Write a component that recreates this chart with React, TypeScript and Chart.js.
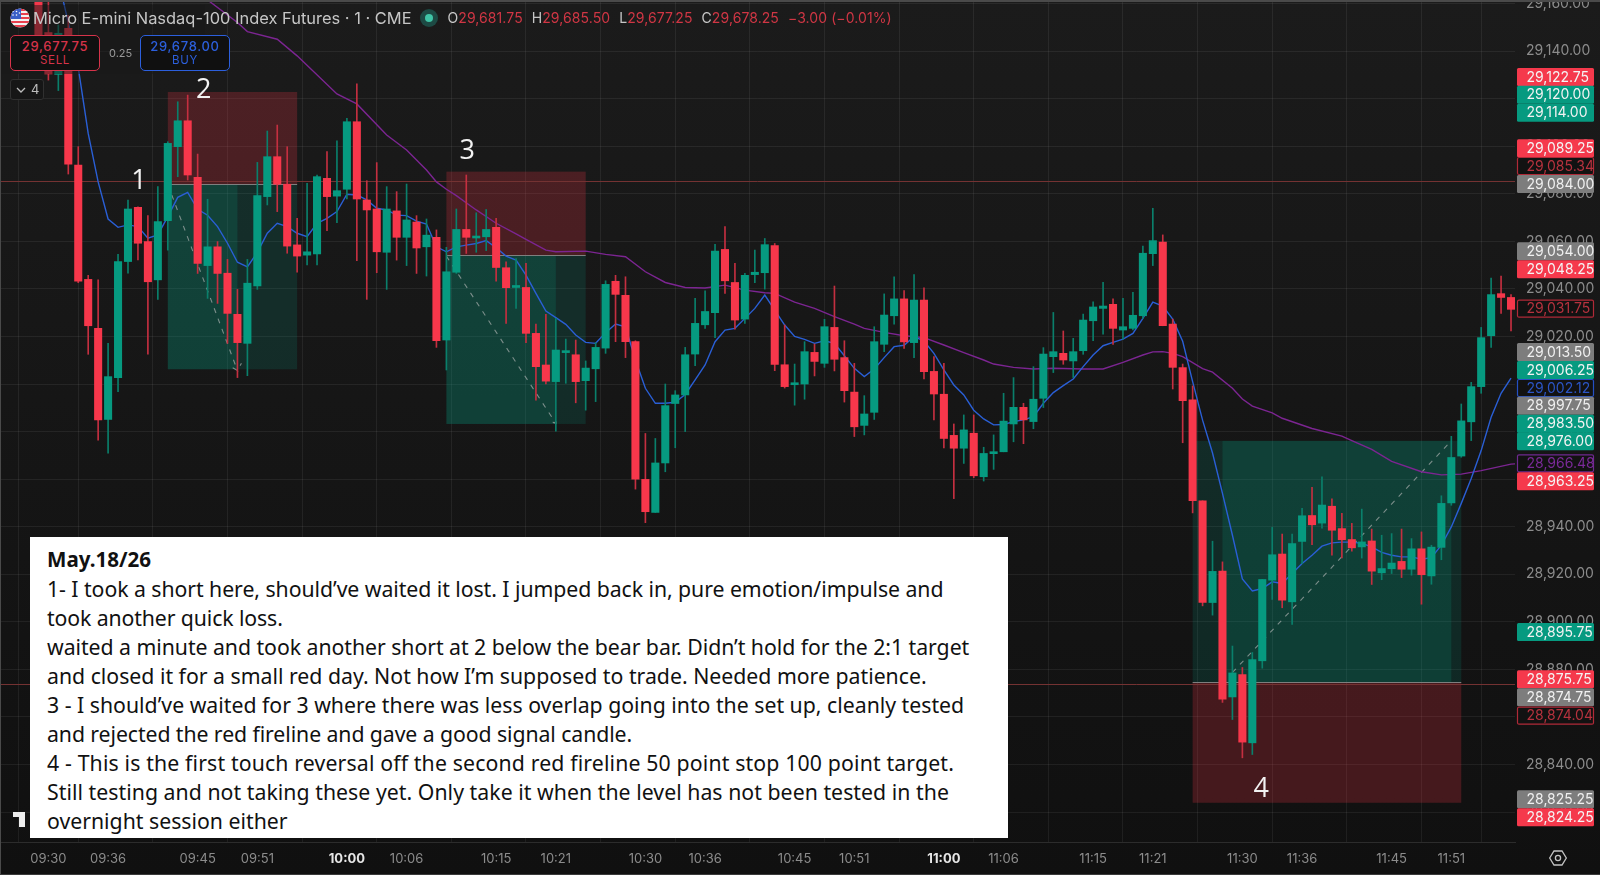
import React, { useEffect, useRef } from "react";
import { Chart, registerables } from "chart.js";

Chart.register(...registerables);

// Minutes after 09:30 of the first candle is -1; one candle per minute.
const firstMinute = -1;
const opens = [
  29170,
  29147.8,29130.2,29149.6,29092.1,29044,29023.4,28985.1,29002.7,29051.5,29074.3,
  29059.9,29043.8,29068.7,29099.8,29110.7,29086.9,29049.8,29057.7,29046.6,29029.3,
  29017.1,29041.3,29078.8,29095.6,29084,29058.5,29054.2,29054.7,29086.5,29079,
  29081.9,29110.3,29077.4,29073.6,29055.4,29072.8,29061.7,29068.1,29057.7,29061.7,
  29018.5,29047,29065,29061.4,29061.9,29065.9,29048.9,29040.6,29040.6,29021.3,
  29008,29001,29013.2,29012.3,29001.4,29006.4,29015.1,29043.2,29037.3,29017.8,
  28959.9,28946,28966.8,28991.8,28995.4,29012.6,29024.9,29030,29056.6,29042.7,
  29027.3,29046,29046.8,29058.2,29008.1,28999.7,29000,29013.3,29008.7,29023.8,
  29011.1,28996.6,28982.6,28988.1,29016.7,29028.7,29035.8,29017.4,29035.3,29005.3,
  28995.7,28978.4,28973,28979.3,28961,28970.7,28971.5,28983.2,28990.2,28984.2,
  28994,29011.5,29012.9,29009.7,29014,29026.6,29031.8,29033.5,29022.7,29023.4,
  29028.7,29054.8,29059.7,29025.2,29006.9,28993.3,28950.9,28908.1,28921.3,28868.4,
  28877.8,28849.1,28883.6,28917.5,28928.5,28908.4,28933.8,28944.7,28941.5,28948.6,
  28939.2,28934.6,28931.5,28934,28920.6,28922.3,28925.4,28922.1,28930.7,28919.3,
  28931.3,28950,28969.7,28984.1,28998.9,29020.3,29038,29036.4,
];
const highs = [
  29175,
  29165,29151,29155,29099.8,29045.7,29043.8,29017.1,29054.5,29077.4,29074.5,
  29070.8,29083,29101.9,29118.7,29121.5,29096.7,29077.7,29059.9,29052.4,29039.8,
  29052.4,29093.2,29106.4,29108.9,29099.8,29069.7,29084.4,29087.9,29097.7,29102.3,
  29111.7,29126.2,29085.5,29093.1,29083,29080.9,29084.1,29070.8,29069.4,29064.8,
  29057.5,29073.6,29087.9,29072,29073.4,29069.7,29051.4,29052.8,29050.7,29025.2,
  29029.3,29027.6,29018.9,29018.5,29009.7,29017.4,29043.4,29045.7,29045.1,29018.2,
  28979.2,28977.1,29000,28997.2,29015.4,29036,29039.2,29058.7,29066.2,29050.7,
  29046.5,29056.3,29061.2,29059.1,29024.8,29008.4,29017.8,29016.8,29027.2,29041.2,
  29018.2,29008.7,28995.1,29024.1,29037.9,29045.1,29039.3,29046,29040.5,29011.5,
  29008.7,28983.2,28987,28987,28973.4,28978.6,28996.1,29002.7,28991.9,29007.3,
  29015.3,29030.1,29022.3,29019.2,29029.4,29034.6,29042.8,29035.8,29036,29038.6,
  29058,29073.9,29062.7,29027.3,29008.4,28999.2,28950.9,28933.9,28925.2,28889.8,
  28880.8,28887.1,28917.8,28939.7,28936.9,28936.9,28947.7,28956.5,28961,28951.7,
  28945.6,28941.4,28947.4,28939,28936.4,28937.1,28939,28935,28937.8,28932.2,
  28953,28978,28991.6,29000.7,29023.8,29044.6,29045.4,29037.6,
];
const lows = [
  29146.8,
  29127.8,29123.4,29088.3,29042.6,29012.5,28976.4,28970.9,28996.8,29046.6,29052.2,
  29012.6,29035.6,29056.3,29087.2,29085.8,29046.5,29036,29033.9,29017.1,29002.7,
  29003.5,29039.8,29075.3,29072.5,29055,29047,29050.1,29050.1,29064.5,29067.8,
  29077.8,29051.9,29035.6,29046.8,29039.8,29052.1,29049.8,29046.5,29045.4,29015.4,
  29005.9,29046.5,29054.9,29055.4,29056.1,29043.3,29025.5,29031.8,29017.4,28993.2,
  29000,28980.2,29000.3,28992.1,28989,28992.6,29012.9,29017.8,29011.1,28955.8,
  28941.7,28946,28963.1,28973.2,28980,29007.7,29023.4,29019.5,29038.1,29023.1,
  29025.5,29042.6,29039.9,29005.6,28998.3,28991.1,28993.6,29003.4,29007,29005.5,
  28992.4,28977.9,28978.6,28985.1,29013.6,29025.2,29015,29011.1,29002.1,28984.9,
  28973.1,28951.8,28966.6,28960.6,28959.2,28964.1,28971.5,28975.7,28974.9,28981.2,
  28990.1,29004.8,29008.3,29002.7,29012.5,29018.2,29021,29016.7,29018.9,29022.7,
  29027.6,29049.8,29024.5,28997.9,28975.3,28945.8,28906.7,28902.8,28866.1,28858.9,
  28842.8,28844.2,28880.5,28909.4,28905.9,28898.9,28924.5,28932.4,28939.4,28928,
  28926.9,28929.7,28926.8,28915.7,28917.7,28920.3,28918.6,28919.6,28907.4,28915.8,
  28926.1,28949,28969.2,28976.2,28996.1,29015.4,29029.7,29022.3,
];
const closes = [
  29146.8,
  29130.4,29147.5,29092.5,29043.3,29024.5,28984.9,29003.1,29051.5,29073.6,29059.2,
  29043,29068.3,29101.2,29110.7,29087.9,29050.7,29057.7,29046.5,29029.7,29017.4,
  29042.4,29079.2,29095.6,29084,29058,29053.8,29055.6,29087.2,29078.8,29081.3,
  29110.3,29077.8,29073.2,29055.6,29073.6,29061.7,29069,29057.2,29062.6,29018.2,
  29047.2,29065,29061.7,29062.2,29065,29049,29040.5,29041.2,29021.3,29007.3,
  29001.2,29014.3,29013.6,29001,29006.7,29015.4,29041.9,29037.7,29017.8,28960,
  28946.3,28966.8,28990.9,28995.4,29012.3,29025.5,29030.5,29055.9,29043.4,29026.9,
  29045.7,29047,29058.6,29008.2,28998.9,29000.3,29013.6,29009.5,29024.1,29010.4,
  28997.2,28982,28987.4,29017.8,29029,29035.8,29017.7,29035.3,29005.2,28995.8,
  28977.1,28973,28980.7,28961.4,28970.8,28971.5,28984.4,28990.2,28984.9,28993.6,
  29012.6,29013.6,29010.1,29013.6,29026.9,29032.4,29032.8,29023.4,29024.1,29028.9,
  29055,29060.3,29024.5,29007,28993,28950.9,28908.1,28921.2,28867.5,28878.5,
  28849.4,28884.1,28917.8,28928.2,28909.1,28932.9,28944.6,28940.8,28949.1,28938.5,
  28934.5,28931.1,28933.6,28921.3,28922.4,28924.7,28922.1,28930.7,28919.8,28931.4,
  28949.8,28969.1,28984.5,28998.9,29019.5,29037.6,29036.4,29031.4,
];

// Blue moving average, one reading per minute from minute 1
const blueFirstMinute = 1;
const blueAverage = [
  29170,29152,29133,29105.4,29085,29069.4,29065.9,29066.9,29066.2,
  29061.3,29062.7,29070.4,29078.5,29080.6,29073.5,29071,29066.2,29059.2,29051.2,
  29049.3,29055.4,29063.4,29067.6,29066.2,29063.4,29062,29067.6,29069.7,29072.5,
  29079.8,29079.5,29077.4,29073.9,29073.2,29071,29070.8,29068.5,29067.3,29057.7,
  29055.6,29057.7,29058.4,29059.1,29060.3,29057.3,29053.8,29052.1,29045.8,29038.1,
  29030.7,29027.9,29025.1,29020.6,29017.5,29017.1,29021.6,29025.2,29024.1,29010.1,
  28998.2,28991.9,28991.9,28992.3,28995.6,29001.7,29008,29017.8,29022.7,29023.4,
  29027.6,29031.8,29037.4,29031.1,29024.8,29020,29018.8,29017.1,29018.2,29017.1,
  29011.9,29006.6,29003.1,29006.3,29011.1,29015.7,29016.3,29019.9,29018.1,29012.9,
  29005.9,28999.6,28995.4,28989,28985.3,28982.8,28983,28984.2,28984.9,28986.3,
  28991.9,28996.4,28999.3,29002.1,29007.3,29012.2,29016.1,29017.5,29018.9,29021.3,
  29027.6,29034.4,29032.8,29027.3,29018,29001,28984.8,28971,28954,28936.4,
  28918,28913,28914,28916.8,28916.1,28920.3,28924.5,28928,28931.8,28933.2,
  28933.5,28933.5,28933,28931.5,28929.2,28928,28927.3,28927.3,28926.3,28927,
  28932.2,28939.9,28949.8,28960.3,28972,28986,28996.1,29002.5,
];

// Purple moving average, readings at its bends
const purpleMinutes = [16,19,20,23,25,29,31,34,36,37,38,39,40,41,43,45,47,48,50,51,54,56,58,60,62,64,66,68,70,72,73,75,77,79,81,82,84,86,88,90,92,94,95,97,99,101,104,106,108,110,111,112,113,114,116,117,119,120,121,123,124,127,130,131,133,135,138,140,142,144,147,148];
const purpleAverage = [29161.5,29152,29148.2,29145,29138,29122,29117.8,29104.7,29098.4,29094.2,29090,29085,29081.9,29079.2,29073.2,29067.6,29063.1,29060.8,29056.3,29055.6,29055.9,29054.5,29053.5,29047.2,29042.7,29040.6,29040.4,29041.6,29039.5,29038.4,29038.1,29034.4,29031.8,29028.3,29025.2,29023.4,29021.7,29020.3,29019.5,29016.4,29013.2,29010.1,29008.4,29007,29006.3,29006.6,29006.3,29006.3,29009.1,29012.2,29013.5,29013.6,29012.9,29011.5,29006.5,29005,28998.2,28993.7,28990.7,28987.9,28985.6,28981.3,28978.1,28976.2,28972.5,28967.5,28963.1,28961.8,28962.1,28963.6,28966.3,28966.6];

// Trade boxes: [from minute, to minute, top price, entry price, bottom price]
const shortTrades = [
  [12, 25, 29122.8, 29084, 29006.2],
  [40, 54, 29089.3, 29054.1, 28983.2],
];
const longTrade = [115, 142, 28976.1, 28874.5, 28823.9];
const brightSpans = [[12, 19], [40, 51], [118, 141]];

// Dashed trade paths, with their small arrow heads
const pathMinutesA = [12.4, 19, 18.3, 19, 19.4];
const pathPricesA = [29079.5, 29005.7, 29007.4, 29005.7, 29008.7];
const pathMinutesB = [40, 51, 50.4, 51, 51.2];
const pathPricesB = [29053.8, 28983.5, 28984.2, 28983.5, 28986.2];
const pathMinutesC = [119, 141];
const pathPricesC = [28878.7, 28976.1];

const firelines = [29085.34, 28874.04];

const timeMinutes = [0,6,15,21,30,36,45,51,60,66,75,81,90,96,105,111,120,126,135,141];
const timeLabels = ["09:30","09:36","09:45","09:51","10:00","10:06","10:15","10:21","10:30","10:36","10:45","10:51","11:00","11:06","11:15","11:21","11:30","11:36","11:45","11:51"];
const priceTicks = [28820,28840,28860,28880,28900,28920,28940,28960,28980,29000,29020,29040,29060,29080,29100,29120,29140,29160];

// Price-axis tags: text, kind
const tagTexts = ["29,122.75","29,120.00","29,114.00","29,089.25","29,085.34","29,084.00","29,054.00","29,048.25","29,031.75","29,013.50","29,006.25","29,002.12","28,997.75","28,983.50","28,976.00","28,966.48","28,963.25","28,895.75","28,875.75","28,874.75","28,874.04","28,825.25","28,824.25"];
const tagKinds = ["red","green","green","red","redLine","gray","gray","red","redLine","gray","green","blueLine","gray","green","green","purpleLine","red","green","red","gray","redLine","gray","red"];
const tagCentres = [77,94.7,112.7,148.3,166,184,251.3,269.3,308.7,352,370,388,405.7,423.7,441.3,463.3,481.3,632,679.3,697.3,715.7,799.3,817.3];

const markTexts = ["1","2","3","4"];
const markMinutes = [9.1,15.6,42.1,121.9];
const markPrices = [29085.2,29123.7,29098,28829.4];

const noteTitle = "May.18/26";
const noteLines = [
  "1- I took a short here, should’ve waited it lost. I jumped back in, pure emotion/impulse and",
  "took another quick loss.",
  "waited a minute and took another short at 2 below the bear bar. Didn’t hold for the 2:1 target",
  "and closed it for a small red day. Not how I’m supposed to trade. Needed more patience.",
  "3 - I should’ve waited for 3 where there was less overlap going into the set up, cleanly tested",
  "and rejected the red fireline and gave a good signal candle.",
  "4 - This is the first touch reversal off the second red fireline 50 point stop 100 point target.",
  "Still testing and not taking these yet. Only take it when the level has not been tested in the",
  "overnight session either",
];
const noteLineTracking = [-0.055, -0.11, -0.04, 0, 0, -0.08, 0.148, 0.04, 0];

const UP = "#069a80";
const DOWN = "#f7374b";
const UP_WICK = "#0a7f6b";
const DOWN_WICK = "#c42f40";
const UI_FONT = "Inter, 'Noto Sans', sans-serif";

const tagStyles: Record<string, { fill: string; stroke?: string; text: string }> = {
  red: { fill: "#f5394c", text: "#f4f4f4" },
  green: { fill: "#069a80", text: "#f2f2f2" },
  gray: { fill: "#7d7d7d", text: "#f0f0f0" },
  redLine: { fill: "#121212", stroke: "#b02a38", text: "#b6323e" },
  blueLine: { fill: "#121212", stroke: "#2450c4", text: "#2b55c6" },
  purpleLine: { fill: "#121212", stroke: "#6f2a90", text: "#7a2a98" },
};

const tradePlugin = {
  id: "tradeBoxes",
  beforeDatasetsDraw(chart: any) {
    const { ctx, scales, chartArea } = chart;
    const x = scales.x;
    const y = scales.y;
    const rect = (a: number, b: number, top: number, bottom: number, fill: string) => {
      ctx.fillStyle = fill;
      const xa = x.getPixelForValue(a);
      const ya = y.getPixelForValue(top);
      ctx.fillRect(xa, ya, x.getPixelForValue(b) - xa, y.getPixelForValue(bottom) - ya);
    };
    const hline = (a: number, b: number, price: number, colour: string) => {
      const py = Math.round(y.getPixelForValue(price)) + 0.5;
      ctx.strokeStyle = colour;
      ctx.lineWidth = 1;
      ctx.beginPath();
      ctx.moveTo(a, py);
      ctx.lineTo(b, py);
      ctx.stroke();
    };
    ctx.save();
    shortTrades.forEach((t, i) => {
      rect(t[0], t[1], t[2], t[3], "rgba(242,54,69,0.23)");
      rect(t[0], t[1], t[3], t[4], "rgba(8,153,129,0.17)");
      rect(brightSpans[i][0], brightSpans[i][1], t[3], t[4], "rgba(8,153,129,0.19)");
    });
    rect(longTrade[0], longTrade[1], longTrade[2], longTrade[3], "rgba(8,153,129,0.17)");
    rect(brightSpans[2][0], brightSpans[2][1], longTrade[2], longTrade[3], "rgba(8,153,129,0.19)");
    rect(longTrade[0], longTrade[1], longTrade[3], longTrade[4], "rgba(242,54,69,0.23)");
    firelines.forEach((p) => hline(chartArea.left, chartArea.right, p, "#743232"));
    shortTrades.forEach((t) => hline(x.getPixelForValue(t[0]), x.getPixelForValue(t[1]), t[3], "#7f7f7f"));
    hline(x.getPixelForValue(longTrade[0]), x.getPixelForValue(longTrade[1]), longTrade[3], "#7f7f7f");
    ctx.restore();
  },
  afterDraw(chart: any) {
    const { ctx, scales, chartArea } = chart;
    ctx.save();
    ctx.font = "14px " + UI_FONT;
    ctx.textBaseline = "middle";
    ctx.textAlign = "left";
    tagTexts.forEach((text, i) => {
      const s = tagStyles[tagKinds[i]];
      const cy = tagCentres[i];
      const left = chartArea.right + 2;
      ctx.fillStyle = s.fill;
      ctx.beginPath();
      ctx.roundRect(left, cy - 9, 77, 18, 1.5);
      ctx.fill();
      if (s.stroke) {
        ctx.strokeStyle = s.stroke;
        ctx.lineWidth = 1.2;
        ctx.beginPath();
        ctx.roundRect(left + 0.5, cy - 8.5, 76, 17, 1.5);
        ctx.stroke();
      }
      ctx.fillStyle = s.text;
      ctx.fillText(text, left + 9.5, cy + 0.5);
    });
    ctx.font = "27px 'Open Sans', sans-serif";
    ctx.fillStyle = "#f2f2f2";
    ctx.textAlign = "center";
    markTexts.forEach((t, i) => {
      ctx.fillText(t, scales.x.getPixelForValue(markMinutes[i]), scales.y.getPixelForValue(markPrices[i]));
    });
    ctx.restore();
  },
};

const pair = (xs: number[], ys: number[]) => xs.map((v, i) => ({ x: v, y: ys[i] }));
const dashed = (xs: number[], ys: number[]) => ({
  type: "line",
  data: pair(xs, ys),
  borderColor: "rgba(190,190,190,0.62)",
  borderWidth: 1.1,
  borderDash: [5, 6],
  pointRadius: 0,
  tension: 0,
  order: 4,
});

const isHour = (c: any) => !!c.tick && c.tick.value % 60 === 30;
const noPadding = (s: any) => {
  s.paddingLeft = 0;
  s.paddingRight = 0;
  s.paddingTop = 0;
  s.paddingBottom = 0;
};

const labelStyle: React.CSSProperties = { position: "absolute", whiteSpace: "nowrap", fontFamily: UI_FONT };

function Flag() {
  const stripes = [0, 4, 8, 12, 16];
  return (
    <svg width="20" height="20" viewBox="0 0 20 20" style={{ position: "absolute", left: 9.5, top: 8 }}>
      <defs>
        <clipPath id="flagClip"><circle cx="10" cy="10" r="9.6" /></clipPath>
      </defs>
      <g clipPath="url(#flagClip)">
        <rect width="20" height="20" fill="#f2f2f2" />
        {stripes.map((s) => <rect key={s} x="0" y={s + 1} width="20" height="2" fill="#e8404e" />)}
        <rect x="0" y="0" width="11" height="11" fill="#3a5fc8" />
        <circle cx="3" cy="3.5" r=".8" fill="#fff" /><circle cx="6.5" cy="3.5" r=".8" fill="#fff" />
        <circle cx="3" cy="7" r=".8" fill="#fff" /><circle cx="6.5" cy="7" r=".8" fill="#fff" />
        <circle cx="9.5" cy="5" r=".8" fill="#fff" />
      </g>
    </svg>
  );
}

function TradeButton({ left, colour, price, side }: { left: number; colour: string; price: string; side: string }) {
  return (
    <div style={{ position: "absolute", left, top: 35, width: 90, height: 36, boxSizing: "border-box", border: `1.2px solid ${colour}`, borderRadius: 5, background: "#101010", textAlign: "center", fontFamily: UI_FONT, color: colour }}>
      <div style={{ fontSize: 13, fontWeight: 500, lineHeight: "14px", marginTop: 3, letterSpacing: 0.7 }}>{price}</div>
      <div style={{ fontSize: 11.5, lineHeight: "14px", letterSpacing: 0.7 }}>{side}</div>
    </div>
  );
}

export default function App() {
  const canvasRef = useRef<HTMLCanvasElement | null>(null);

  useEffect(() => {
    document.body.style.margin = "0";
    document.body.style.background = "#121212";
    const minutes = opens.map((_, i) => firstMinute + i);
    const isUp = (i: number) => closes[i] >= opens[i];
    const chart = new Chart(canvasRef.current as HTMLCanvasElement, {
      type: "bar",
      plugins: [tradePlugin],
      data: {
        datasets: [
          {
            type: "line",
            data: blueAverage.map((v, i) => ({ x: blueFirstMinute + i, y: v })),
            borderColor: "#2a5fd6",
            borderWidth: 1.4,
            pointRadius: 0,
            tension: 0,
            order: 3,
          },
          {
            type: "line",
            data: pair(purpleMinutes, purpleAverage),
            borderColor: "#7c2592",
            borderWidth: 1.4,
            pointRadius: 0,
            tension: 0,
            order: 3,
          },
          dashed(pathMinutesA, pathPricesA),
          dashed(pathMinutesB, pathPricesB),
          dashed(pathMinutesC, pathPricesC),
          {
            data: minutes.map((m, i) => ({ x: m, y: [lows[i], highs[i]] })),
            backgroundColor: minutes.map((_, i) => (isUp(i) ? UP_WICK : DOWN_WICK)),
            barThickness: 1,
            grouped: false,
            order: 2,
          },
          {
            data: minutes.map((m, i) => ({ x: m, y: [Math.min(opens[i], closes[i]), Math.max(opens[i], closes[i])] })),
            backgroundColor: minutes.map((_, i) => (isUp(i) ? UP : DOWN)),
            barThickness: 7.4,
            minBarLength: 2,
            grouped: false,
            order: 1,
          },
        ],
      } as any,
      options: {
        animation: false,
        responsive: false,
        devicePixelRatio: 1,
        events: [],
        layout: { padding: 0 },
        plugins: { legend: { display: false }, tooltip: { enabled: false } },
        scales: {
          x: {
            type: "linear",
            bounds: "data",
            min: -4.864,
            max: 147.4,
            offset: false,
            afterBuildTicks: (s: any) => { s.ticks = timeMinutes.map((v) => ({ value: v })); },
            afterFit: (s: any) => { s.height = 33; noPadding(s); },
            grid: { color: "rgba(255,255,255,0.065)", drawTicks: false },
            border: { display: true, color: "#2c2c2c" },
            ticks: {
              autoSkip: false,
              maxRotation: 0,
              padding: 9,
              callback: (v: number) => timeLabels[timeMinutes.indexOf(v)],
              color: (c: any) => (isHour(c) ? "#e6e6e6" : "#8c8c8c"),
              font: (c: any) => ({ family: UI_FONT, size: 13, weight: isHour(c) ? "bold" : "normal" }),
            },
          },
          y: {
            type: "linear",
            position: "right",
            bounds: "data",
            min: 28807.4,
            max: 29161.49,
            afterBuildTicks: (s: any) => { s.ticks = priceTicks.map((v) => ({ value: v })); },
            afterFit: (s: any) => { s.width = 85; noPadding(s); },
            grid: { color: "rgba(255,255,255,0.065)", drawTicks: false },
            border: { display: false },
            ticks: {
              autoSkip: false,
              padding: 11,
              color: "#8c8c8c",
              font: { family: UI_FONT, size: 14 },
              callback: (v: number) => v.toLocaleString("en-US", { minimumFractionDigits: 2, maximumFractionDigits: 2 }),
            },
          },
        },
      } as any,
    });
    return () => chart.destroy();
  }, []);

  const red = "#d03644";
  const grey = "#c6c6c6";
  return (
    <div style={{ position: "fixed", left: 0, top: 0, width: 1600, height: 875, overflow: "hidden", background: "linear-gradient(#1b1b1b, #101010)" }}>
      <canvas ref={canvasRef} width={1600} height={875} style={{ position: "absolute", left: 0, top: 0, display: "block" }} />
      <div style={{ position: "absolute", left: 0, top: 5, width: 205, height: 69, background: "rgba(24,24,24,0.5)" }} />
      <div style={{ position: "absolute", left: 0, top: 0, width: 1600, height: 1.5, background: "#4a4a4a" }} />
      <div style={{ position: "absolute", left: 0, top: 0, width: 1.2, height: 875, background: "#4a4a4a" }} />
      <div style={{ position: "absolute", left: 0, top: 873.6, width: 1600, height: 1.4, background: "#3a3a3a" }} />
      <Flag />
      <div style={{ ...labelStyle, left: 33, top: 8, fontSize: 16.45, lineHeight: "20px", color: grey }}>Micro E-mini Nasdaq-100 Index Futures · 1 · CME</div>
      <div style={{ position: "absolute", left: 420, top: 9, width: 18, height: 18, borderRadius: 9, background: "#1d4a44" }} />
      <div style={{ position: "absolute", left: 425, top: 14, width: 8, height: 8, borderRadius: 4, background: "#40c4a6" }} />
      <div style={{ ...labelStyle, left: 447.5, top: 9, fontSize: 14, letterSpacing: 0.08, lineHeight: "18px", color: red }}>
        <span style={{ color: grey }}>O</span>29,681.75
        <span style={{ color: grey, marginLeft: 9 }}>H</span>29,685.50
        <span style={{ color: grey, marginLeft: 9 }}>L</span>29,677.25
        <span style={{ color: grey, marginLeft: 9 }}>C</span>29,678.25
        <span style={{ marginLeft: 9 }}>−3.00 (−0.01%)</span>
      </div>
      <TradeButton left={10} colour="#d6334a" price="29,677.75" side="SELL" />
      <div style={{ ...labelStyle, left: 109, top: 46, fontSize: 11, lineHeight: "14px", color: "#9a9a9a" }}>0.25</div>
      <TradeButton left={140} colour="#2c5fdc" price="29,678.00" side="BUY" />
      <div style={{ position: "absolute", left: 10, top: 79, width: 34, height: 21, boxSizing: "border-box", border: "1px solid #303030", borderRadius: 3, background: "#161616" }} />
      <svg width="12" height="10" style={{ position: "absolute", left: 15, top: 85 }}>
        <path d="M2 3 L6 7 L10 3" stroke="#bdbdbd" strokeWidth="1.3" fill="none" />
      </svg>
      <div style={{ ...labelStyle, left: 31, top: 81, fontSize: 13, lineHeight: "17px", color: "#bdbdbd" }}>4</div>
      <svg width="20" height="18" style={{ position: "absolute", left: 12, top: 811 }}>
        <path d="M1 1 H13 V16 H7 V6 H1 Z" fill="#ececec" />
      </svg>
      <div style={{ position: "absolute", left: 30, top: 537, width: 978, height: 301, background: "#ffffff", color: "#111", fontFamily: "'Noto Sans', sans-serif", fontSize: 21.25, lineHeight: "29px", boxSizing: "border-box", paddingLeft: 17, paddingTop: 8, whiteSpace: "nowrap" }}>
        <div style={{ fontWeight: 700, fontSize: 20.6 }}>{noteTitle}</div>
        {noteLines.map((l, i) => (
          <div key={l} style={{ letterSpacing: noteLineTracking[i] }}>{l}</div>
        ))}
      </div>
      <svg width="20" height="20" viewBox="0 0 20 20" style={{ position: "absolute", left: 1548, top: 848 }}>
        <path d="M6 3 H14 L18.3 10 L14 17 H6 L1.7 10 Z" fill="none" stroke="#c4c4c4" strokeWidth="1.3" />
        <circle cx="10" cy="10" r="2.6" fill="none" stroke="#c4c4c4" strokeWidth="1.3" />
      </svg>
    </div>
  );
}
